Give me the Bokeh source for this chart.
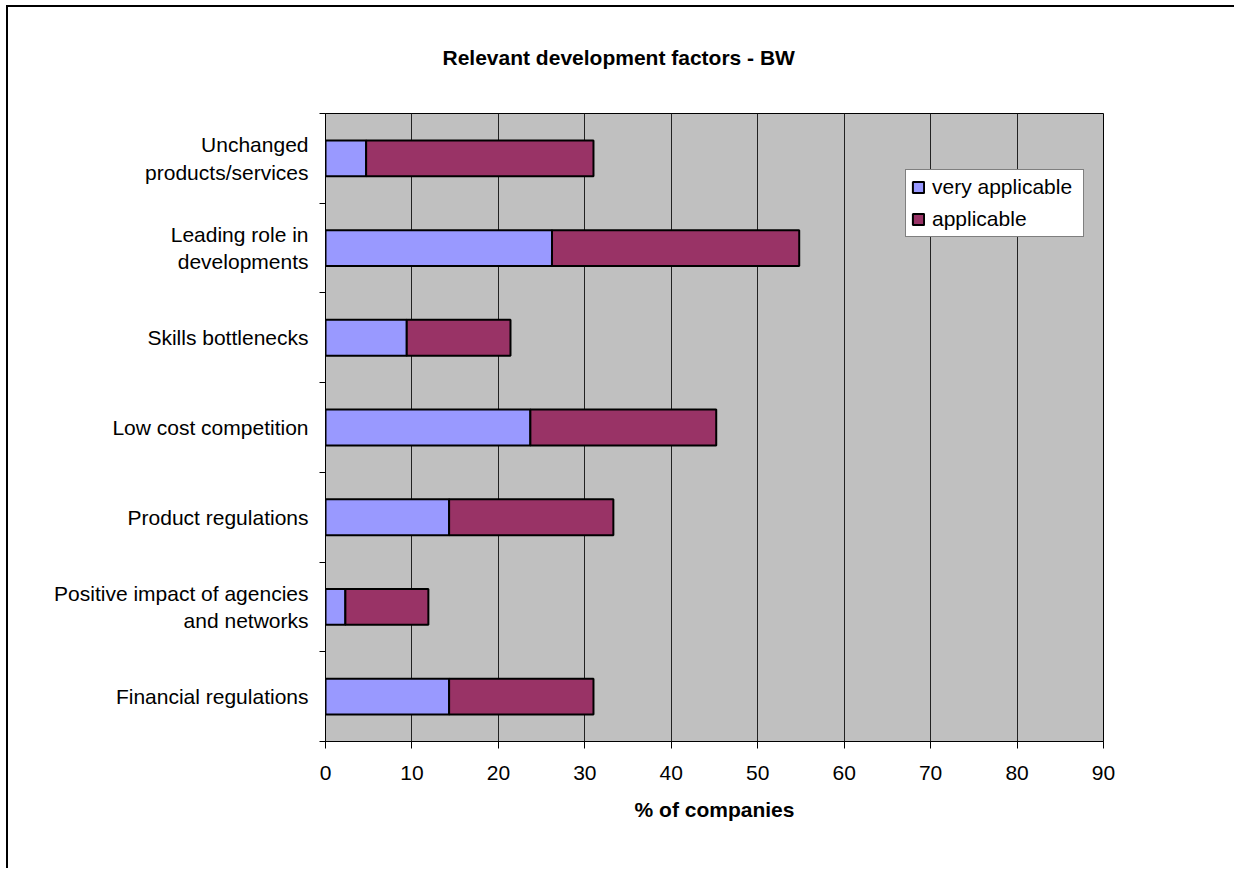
from bokeh.plotting import figure
from bokeh.models import (ColumnDataSource, Range1d, FixedTicker, Title, Legend)
from bokeh.embed import file_html
from bokeh.resources import INLINE

# ---- data (top to bottom as shown) ----
categories = [
    "Unchanged\nproducts/services",
    "Leading role in\ndevelopments",
    "Skills bottlenecks",
    "Low cost competition",
    "Product regulations",
    "Positive impact of agencies\nand networks",
    "Financial regulations",
]
very_applicable = [4.7, 26.2, 9.4, 23.7, 14.3, 2.3, 14.3]
applicable = [26.3, 28.6, 12.0, 21.5, 19.0, 9.6, 16.7]
series_names = ["very applicable", "applicable"]
series_colors = ["#9999FF", "#993366"]
x_ticks = [0, 10, 20, 30, 40, 50, 60, 70, 80, 90]

n = len(categories)
ypos = [n - 0.5 - i for i in range(n)]
source = ColumnDataSource(dict(y=ypos, very=very_applicable, app=applicable))

FONT = "Liberation Sans"

p = figure(width=1234, height=868, output_backend="svg", toolbar_location=None,
           x_range=Range1d(0, 90), y_range=Range1d(0, n),
           min_border_left=325, min_border_right=131, min_border_top=113, min_border_bottom=127)
# chart-area edge (top and left) drawn behind a transparent border area
p.border_fill_color = None
p.styles = {
    "background-color": "white",
    "background-image": "linear-gradient(#000, #000), linear-gradient(#000, #000)",
    "background-position": "6px 5px, 6px 5px",
    "background-size": "2px 100%, 100% 2px",
    "background-repeat": "no-repeat, no-repeat",
}
p.background_fill_color = "#C0C0C0"
p.outline_line_color = "black"
p.outline_line_width = 1

renderers = p.hbar_stack(["very", "app"], y="y", height=0.4, color=series_colors,
                         line_color="black", line_width=2, source=source)

legend = Legend(items=[(series_names[0], [renderers[0]]), (series_names[1], [renderers[1]])],
                location=(580, 504))
legend.label_text_font = FONT
legend.label_text_font_size = "21px"
legend.label_text_color = "black"
legend.glyph_width = 14
legend.glyph_height = 14
legend.padding = 5
legend.spacing = 8
legend.label_standoff = 7
legend.label_width = 146
legend.margin = 0
legend.border_line_color = "black"
legend.border_line_width = 1
legend.background_fill_color = "white"
legend.background_fill_alpha = 1
p.add_layout(legend, "center")

# grid
p.xgrid.ticker = FixedTicker(ticks=x_ticks)
p.xgrid.grid_line_color = "#222222"
p.xgrid.grid_line_width = 1
p.ygrid.grid_line_color = None

# x axis
xa = p.xaxis[0]
xa.ticker = FixedTicker(ticks=x_ticks)
xa.axis_label = "% of companies"
xa.axis_label_text_font = FONT
xa.axis_label_text_font_size = "21px"
xa.axis_label_text_font_style = "bold"
xa.axis_label_text_color = "black"
xa.axis_label_standoff = 15
xa.major_label_text_font = FONT
xa.major_label_text_font_size = "21px"
xa.major_label_text_color = "black"
xa.major_label_standoff = 17
xa.major_tick_out = 7
xa.major_tick_in = 0
xa.minor_tick_out = 0
xa.minor_tick_in = 0
xa.axis_line_color = "black"
xa.major_tick_line_color = "black"

# y axis: labels at category centres, ticks at boundaries
ya = p.yaxis[0]
ya.ticker = FixedTicker(ticks=ypos, minor_ticks=list(range(n + 1)))
ya.major_label_overrides = {y: c for y, c in zip(ypos, categories)}
ya.major_label_text_font = FONT
ya.major_label_text_font_size = "21px"
ya.major_label_text_color = "black"
ya.major_label_text_align = "center"
ya.major_label_standoff = 11
ya.major_tick_out = 0
ya.major_tick_in = 0
ya.minor_tick_out = 6
ya.minor_tick_in = 0
ya.minor_tick_line_color = "black"
ya.axis_line_color = "black"

# title
p.title = Title(text="Relevant development factors - BW", align="left", offset=117,
                vertical_align="top",
                text_font=FONT, text_font_size="21px", text_font_style="bold",
                text_color="black", standoff=86)

open("out.html", "w").write(file_html(p, INLINE))
